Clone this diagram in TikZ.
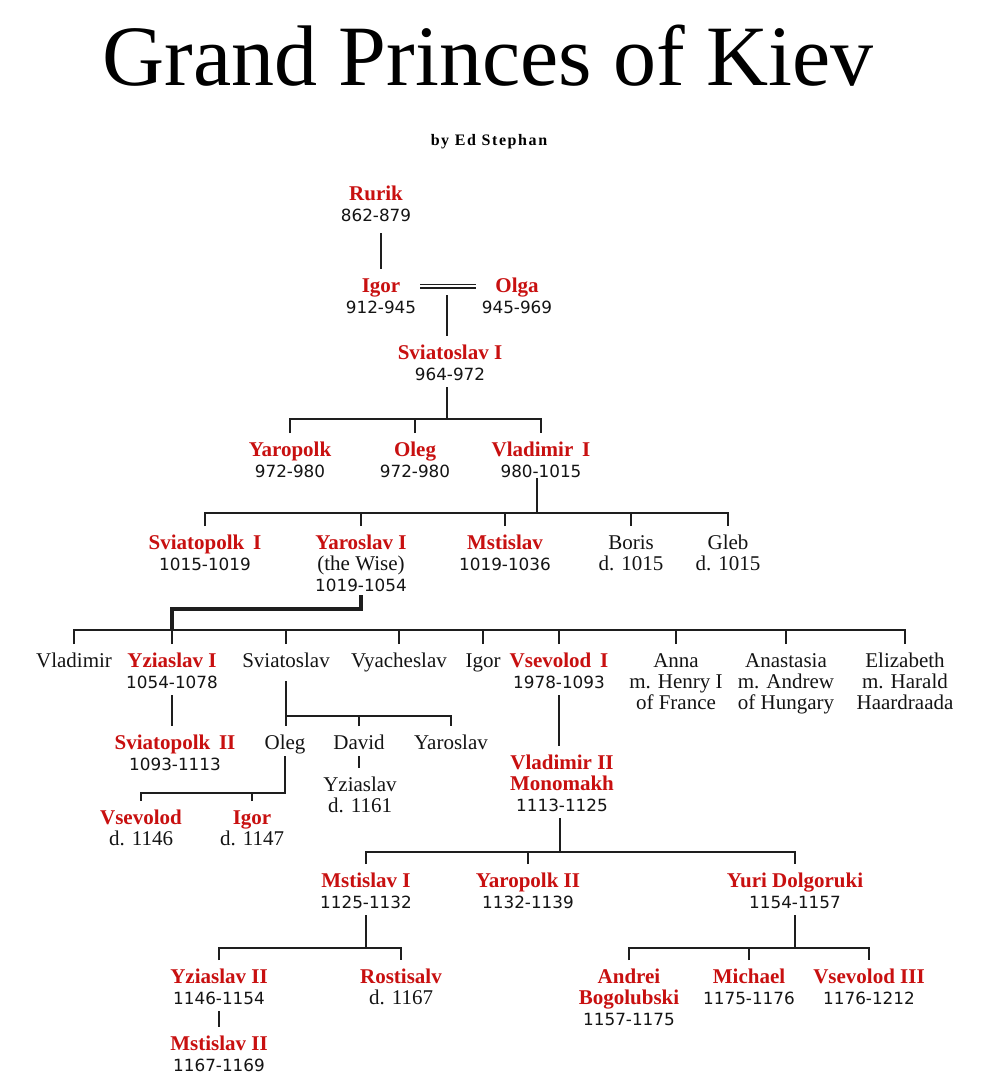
\documentclass[tikz,border=0pt]{standalone}
\usepackage{fontspec}
\setmainfont{Liberation Serif}
\newfontfamily\yrfont{DejaVu Sans}
\newfontfamily\subfont[LetterSpace=10]{Liberation Serif}
\usetikzlibrary{calc}
\definecolor{kred}{RGB}{200,16,16}
\definecolor{kline}{RGB}{30,30,30}
\definecolor{ktext}{RGB}{20,20,20}
\newcommand\nm[1]{{\color{kred}\bfseries #1}}
\newcommand\yr[1]{{\yrfont\fontsize{16.8}{21}\selectfont #1}}
\newcommand\topst{\rule{0pt}{23pt}}
\newcommand\botst{\rule[-7pt]{0pt}{7pt}}
\newcommand\pt[1]{\topst#1\botst}
\begin{document}
\begin{tikzpicture}[x=1pt,y=-1pt,
  person/.style={anchor=north, align=center, inner sep=0pt, text=ktext,
    font=\fontsize{21}{21}\selectfont},
  link/.style={draw=kline, line width=1.8pt},
  thicklink/.style={draw=kline, line width=3.4pt},
  wed/.style={draw=kline, line width=1.4pt, double=white, double distance=2.1pt},
]
\fill[white] (0,0) rectangle (996,1092);
\useasboundingbox (0,0) rectangle (996,1092);

% title
\node[anchor=base, inner sep=0pt, text=black, font=\fontsize{86}{86}\selectfont] (title) at (488,85) {Grand Princes of Kiev};
\node[anchor=base, inner sep=0pt, text=black, font=\subfont\bfseries\fontsize{16}{16}\selectfont] (author) at (489,145) {by Ed Stephan};

% generation 1-2
\node[person] (rurik) at (376,177) {\pt{\nm{Rurik}\\\yr{862-879}}};
\node[person] (igor) at (381,269) {\pt{\nm{Igor}\\\yr{912-945}}};
\node[person] (olga) at (517,269) {\pt{\nm{Olga}\\\yr{945-969}}};
\coordinate (m) at (447,286.3);
\node[person] (svia1) at (450,336) {\pt{\nm{Sviatoslav I}\\\yr{964-972}}};

% generation 3
\node[person] (yaropolk) at (290,433) {\pt{\nm{Yaropolk}\\\yr{972-980}}};
\node[person] (oleg1) at (415,433) {\pt{\nm{Oleg}\\\yr{972-980}}};
\node[person] (vlad1) at (541,433) {\pt{\nm{Vladimir\, I}\\\yr{980-1015}}};

% generation 4
\node[person] (sviatopolk1) at (205,526) {\pt{\nm{Sviatopolk\, I}\\\yr{1015-1019}}};
\node[person] (yaroslav1) at (361,526) {\pt{\nm{Yaroslav I}\\(the Wise)\\\yr{1019-1054}}};
\node[person] (mstislav) at (505,526) {\pt{\nm{Mstislav}\\\yr{1019-1036}}};
\node[person] (boris) at (631,526) {\pt{Boris\\d. 1015}};
\node[person] (gleb) at (728,526) {\pt{Gleb\\d. 1015}};

% generation 5
\node[person] (vladimir) at (74,644) {\pt{Vladimir}};
\node[person] (yziaslav1) at (172,644) {\pt{\nm{Yziaslav I}\\\yr{1054-1078}}};
\node[person] (sviatoslav) at (286,644) {\pt{Sviatoslav}};
\node[person] (vyacheslav) at (399,644) {\pt{Vyacheslav}};
\node[person] (igor2) at (483,644) {\pt{Igor}};
\node[person] (vsevolod1) at (559,644) {\pt{\nm{Vsevolod\, I}\\\yr{1978-1093}}};
\node[person] (anna) at (676,644) {\pt{Anna\\m. Henry I\\of France}};
\node[person] (anastasia) at (786,644) {\pt{Anastasia\\m. Andrew\\of Hungary}};
\node[person] (elizabeth) at (905,644) {\pt{Elizabeth\\m. Harald\\Haardraada}};

% generation 6
\node[person] (sviatopolk2) at (175,726) {\pt{\nm{Sviatopolk\, II}\\\yr{1093-1113}}};
\node[person] (oleg2) at (285,726) {\pt{Oleg}};
\node[person] (david) at (359,726) {\pt{David}};
\node[person] (yaroslav2) at (451,726) {\pt{Yaroslav}};
\node[person] (yziaslavD) at (360,768) {\pt{Yziaslav\\d. 1161}};
\node[person] (vsevolod2) at (141,801) {\pt{\nm{Vsevolod}\\d. 1146}};
\node[person] (igor3) at (252,801) {\pt{\nm{Igor}\\d. 1147}};
\node[person] (vladimir2) at (562,746) {\pt{\nm{Vladimir II}\\\nm{Monomakh}\\\yr{1113-1125}}};

% generation 7
\node[person] (mstislav1) at (366,864) {\pt{\nm{Mstislav I}\\\yr{1125-1132}}};
\node[person] (yaropolk2) at (528,864) {\pt{\nm{Yaropolk II}\\\yr{1132-1139}}};
\node[person] (yuri) at (795,864) {\pt{\nm{Yuri Dolgoruki}\\\yr{1154-1157}}};

% generation 8
\node[person] (yziaslav2) at (219,960) {\pt{\nm{Yziaslav II}\\\yr{1146-1154}}};
\node[person] (mstislav2) at (219,1027) {\pt{\nm{Mstislav II}\\\yr{1167-1169}}};
\node[person] (rostisalv) at (401,960) {\pt{\nm{Rostisalv}\\d. 1167}};
\node[person] (andrei) at (629,960) {\pt{\nm{Andrei}\\\nm{Bogolubski}\\\yr{1157-1175}}};
\node[person] (michael) at (749,960) {\pt{\nm{Michael}\\\yr{1175-1176}}};
\node[person] (vsevolod3) at (869,960) {\pt{\nm{Vsevolod III}\\\yr{1176-1212}}};

% bar junctions
\coordinate (b3) at (447,419);
\coordinate (b4) at (537,513);
\coordinate (b5) at (172,609);
\coordinate (bar5) at (500,630);
\coordinate (b6) at (285,716);
\coordinate (b7) at (285,793);
\coordinate (b8) at (560,852);
\coordinate (b9) at (366,948);

% connectors
\draw[link] ($(igor.north |- rurik.south)+(0,5)$) -- (igor.north);
\draw[wed, shorten <=4pt, shorten >=6pt] (igor.east |- m) -- (olga.west |- m);
\draw[link] ($(m)+(0,9)$) -- (svia1.north -| m);
\draw[link] (svia1.south -| m) -- (b3);
\draw[link] (yaropolk.north) |- (vlad1.north |- b3) -- (vlad1.north);
\draw[link] (oleg1.north) -- (oleg1.north |- b3);

\draw[link] ($(vlad1.south -| b4)+(0,-6)$) -- (b4);
\draw[link] (sviatopolk1.north) |- (gleb.north |- b4) -- (gleb.north);
\draw[link] (yaroslav1.north) -- (yaroslav1.north |- b4);
\draw[link] (mstislav.north) -- (mstislav.north |- b4);
\draw[link] (boris.north) -- (boris.north |- b4);

\draw[link] (vladimir.north) |- (elizabeth.north |- bar5) -- (elizabeth.north);
\foreach \c in {yziaslav1,sviatoslav,vyacheslav,igor2,vsevolod1,anna,anastasia}
  \draw[link] (\c.north) -- (\c.north |- bar5);
\draw[thicklink] ($(yaroslav1.south)+(0,-3)$) |- (b5) -- (b5 |- bar5);

\draw[link] (yziaslav1.south) -- (yziaslav1.south |- sviatopolk2.north);
\draw[link] ($(sviatoslav.south)+(0,7)$) -- (sviatoslav.south |- oleg2.north);
\draw[link] (sviatoslav.south |- b6) -| (yaroslav2.north);
\draw[link] (david.north) -- (david.north |- b6);
\draw[link] (david.south) -- (david.south |- yziaslavD.north);
\draw[link] (oleg2.south) |- (vsevolod2.north |- b7) -- (vsevolod2.north);
\draw[link] (igor3.north) -- (igor3.north |- b7);

\draw[link] (vsevolod1.south) -- (vsevolod1.south |- vladimir2.north);
\draw[link] (vladimir2.south -| b8) -- (b8);
\draw[link] (mstislav1.north) |- (yuri.north |- b8) -- (yuri.north);
\draw[link] (yaropolk2.north) -- (yaropolk2.north |- b8);

\draw[link] (mstislav1.south) -- (mstislav1.south |- b9);
\draw[link] (yziaslav2.north) |- (rostisalv.north |- b9) -- (rostisalv.north);
\draw[link] (yziaslav2.south) -- (yziaslav2.south |- mstislav2.north);
\draw[link] (yuri.south) -- (yuri.south |- b9);
\draw[link] (andrei.north) |- (vsevolod3.north |- b9) -- (vsevolod3.north);
\draw[link] (michael.north) -- (michael.north |- b9);
\end{tikzpicture}
\end{document}
